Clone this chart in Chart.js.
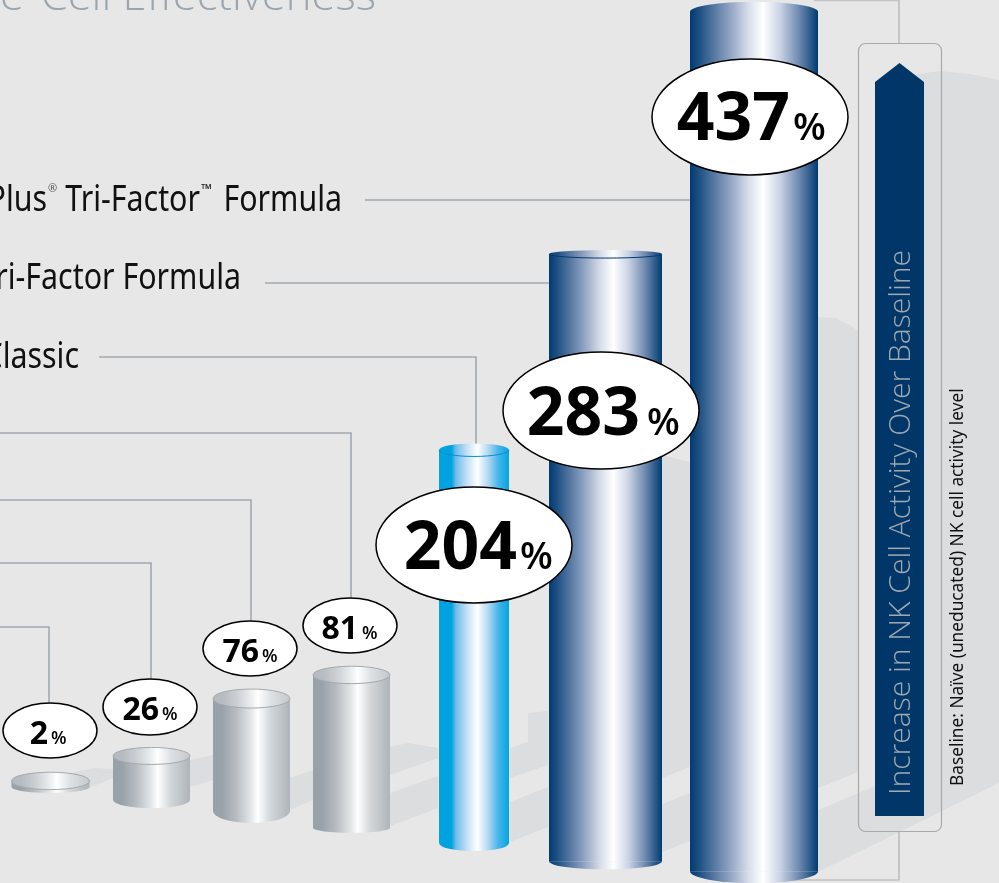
<!DOCTYPE html>
<html>
<head>
<meta charset="utf-8">
<title>NK Cell Activity</title>
<script src="https://cdn.jsdelivr.net/npm/chart.js@4"></script>
<style>
html, body { margin: 0; padding: 0; background: #e7e7e7; overflow: hidden; }
canvas { display: block; }
</style>
</head>
<body>
<canvas id="chart" width="999" height="883"></canvas>
<script>
// data
const categories = ['Product A', 'Product B', 'Product C', 'Product D', 'Classic', 'Tri-Factor Formula', 'Plus Tri-Factor Formula'];
const percentIncrease = [2, 26, 76, 81, 204, 283, 437];
// the artwork is not to scale and the floor rises to the left, so these are the drawn levels on the axis
const drawnBase = [42.8, 36.2, 30.6, 22, 14.3, 5, 0];
const drawnTop = [45.9, 58.6, 87.8, 99.8, 214.2, 313.8, 437];

// layout
const barCenters = [50.5, 151.5, 251.5, 351.5, 474, 605.5, 754];
const barWidths = [78, 77, 77, 77, 70, 113, 128];
const capHeights = [8.7, 8.5, 9.5, 8.7, 6.5, 4, 10];
const footHeights = [6, 8, 12, 5, 8, 8, 12];
const barColors = ['gray', 'gray', 'gray', 'gray', 'blue', 'navy', 'navy'];

const stops = {
    gray: [[0, '#98a0a8'], [0.12, '#9aa2a9'], [0.3, '#b7bcc1'], [0.5, '#e5e8ea'], [0.58, '#ffffff'], [0.75, '#d2d6d9'], [1, '#aeb4b9']],
    blue: [[0, '#00a3e0'], [0.18, '#00a3e0'], [0.24, '#6cbcea'], [0.4, '#c5e0f5'], [0.55, '#ffffff'], [0.7, '#b5d8f2'], [0.85, '#45b5e8'], [1, '#00a5e3']],
    navy: [[0, '#003b71'], [0.07, '#1d4f82'], [0.3, '#8b9fbf'], [0.45, '#d5dbe8'], [0.57, '#ffffff'], [0.7, '#ccd5e5'], [0.85, '#6f8ab0'], [1, '#003b71']]
};
const outlineColors = { gray: '#a3aab0', blue: '#0090d0', navy: '#003b71' };

function barGradient(ctx, color, left, right) {
    const g = ctx.createLinearGradient(left, 0, right, 0);
    stops[color].forEach(s => g.addColorStop(s[0], s[1]));
    return g;
}

// one polygon per floor shadow
const shadows = [
    [[70, 773], [95, 768], [113, 769], [113, 778], [89, 788]],
    [[190, 760], [213, 755], [213, 780], [190, 787]],
    [[290, 778], [313, 770], [313, 800], [290, 810]],
    [[390, 747], [408, 743], [438, 748], [438, 758], [390, 775]],
    [[390, 793], [438, 776], [438, 808], [390, 826]],
    [[510, 748], [528, 742], [528, 713], [548, 711], [548, 765], [510, 778]],
    [[510, 802], [548, 787], [548, 827], [510, 842]],
    [[662, 455], [690, 462], [690, 767], [662, 778]],
    [[662, 804], [690, 793], [690, 841], [662, 852]],
    [[816, 317], [835, 318], [850, 325], [858, 331], [858, 772], [816, 789]],
    [[816, 811], [875, 786], [875, 95], [917, 74], [940, 71], [970, 74], [999, 80], [999, 783], [816, 873]]
];

// leader lines from the product names to the bars
const leaders = [
    [[365, 200], [690, 200]],
    [[265, 283], [549, 283]],
    [[99, 357], [476, 357], [476, 445]],
    [[0, 433], [351, 433], [351, 600]],
    [[0, 500], [251, 500], [251, 622]],
    [[0, 563], [151, 563], [151, 680]],
    [[0, 627], [49, 627], [49, 704]]
];

// bubbles: center x, center y, half width, half height, number size, % size, number right edge, % left edge, baseline
const bubbles = [
    [50, 730.5, 47, 27.5, 32, 18, 48, 51, 744],
    [150, 707, 47, 28, 32, 18, 159, 162, 720],
    [250, 648.5, 47, 27.5, 32, 18, 259, 262, 662],
    [350, 625.5, 47, 27.5, 32, 18, 358, 362, 639],
    [474, 545, 98, 58, 66, 38, 517, 520, 569],
    [601, 410.5, 98, 58.5, 66, 38, 640, 647, 435],
    [750, 117, 98, 58, 66, 38, 790, 793, 140]
];

function poly(ctx, pts) {
    ctx.beginPath();
    pts.forEach((p, i) => i ? ctx.lineTo(p[0], p[1]) : ctx.moveTo(p[0], p[1]));
}

function text(ctx, str, x, y, font, color, align, squeeze) {
    ctx.save();
    ctx.translate(x, y);
    ctx.scale(squeeze || 1, 1);
    ctx.font = font;
    ctx.fillStyle = color;
    ctx.textAlign = align || 'left';
    ctx.textBaseline = 'alphabetic';
    ctx.fillText(str, 0, 0);
    ctx.restore();
}

// background decoration, then the round foot under each bar
const backdrop = {
    id: 'backdrop',
    beforeDatasetsDraw(chart) {
        const ctx = chart.ctx;
        ctx.fillStyle = '#dcdddf';
        shadows.forEach(s => { poly(ctx, s); ctx.closePath(); ctx.fill(); });

        ctx.strokeStyle = '#a2a9af';
        ctx.lineWidth = 1.6;
        leaders.forEach(l => { poly(ctx, l); ctx.stroke(); });

        ctx.strokeStyle = '#b0b0b0';
        ctx.lineWidth = 1.2;
        poly(ctx, [[899, 0], [899, 43]]); ctx.stroke();
        poly(ctx, [[899, 832], [899, 880], [790, 880]]); ctx.stroke();
        ctx.strokeStyle = '#c4c4c4';
        ctx.lineWidth = 2.5;
        poly(ctx, [[814, 0], [899, 0]]); ctx.stroke();

        chart.data.datasets.forEach((ds, i) => {
            const bar = chart.getDatasetMeta(i).data[0];
            const left = bar.x - bar.width / 2, right = bar.x + bar.width / 2;
            ctx.fillStyle = barGradient(ctx, barColors[i], left, right);
            ctx.beginPath();
            ctx.ellipse(bar.x, bar.base, bar.width / 2, footHeights[i], 0, 0, Math.PI);
            ctx.fill();
        });
    },
    afterDatasetsDraw(chart) {
        const ctx = chart.ctx;
        chart.data.datasets.forEach((ds, i) => {
            const bar = chart.getDatasetMeta(i).data[0];
            const left = bar.x - bar.width / 2, right = bar.x + bar.width / 2;
            ctx.fillStyle = barGradient(ctx, barColors[i], left, right);
            ctx.beginPath();
            ctx.ellipse(bar.x, bar.y, bar.width / 2, capHeights[i], 0, 0, Math.PI * 2);
            ctx.fill();
            // gray caps are paler than the body and outlined all round
            if (barColors[i] === 'gray') {
                ctx.fillStyle = 'rgba(255,255,255,0.28)';
                ctx.fill();
            }
            ctx.strokeStyle = outlineColors[barColors[i]];
            ctx.lineWidth = 1;
            if (barColors[i] === 'gray') {
                ctx.stroke();
            } else if (i < 6) {
                // tallest bar has no inner rim in the source
                ctx.beginPath();
                ctx.ellipse(bar.x, bar.y, bar.width / 2, capHeights[i], 0, 0, Math.PI);
                ctx.stroke();
            }
        });
    },
    afterDraw(chart) {
        const ctx = chart.ctx;

        // side box with arrow
        ctx.strokeStyle = '#a9a9a9';
        ctx.lineWidth = 1.2;
        ctx.beginPath();
        ctx.roundRect(858.5, 43.5, 83, 788, 7);
        ctx.stroke();
        ctx.fillStyle = '#003768';
        poly(ctx, [[899.5, 63], [924, 82], [924, 816], [875, 816], [875, 82]]);
        ctx.closePath();
        ctx.fill();

        ctx.save();
        ctx.translate(910, 795);
        ctx.rotate(-Math.PI / 2);
        text(ctx, 'Increase in NK Cell Activity Over Baseline', 0, 0, '300 29px "Open Sans"', '#9fa9b2', 'left', 1.036);
        ctx.restore();

        ctx.save();
        ctx.translate(963, 786);
        ctx.rotate(-Math.PI / 2);
        text(ctx, 'Baseline: Naïve (uneducated) NK cell activity level', 0, 0, '400 17.3px "Noto Sans"', '#111111', 'left', 1);
        ctx.restore();

        // title and product names, cut off by the left and top edges as in the source
        text(ctx, 'Cell Effectiveness', 376, 10, '300 42px "Open Sans"', '#9aa5ad', 'right', 1.037);
        text(ctx, 'e', 24, 10, '300 42px "Open Sans"', '#9aa5ad', 'right', 1.037);

        const nameFont = '400 37px "Noto Sans"', squeeze = 0.82;
        text(ctx, 'Formula', 342, 211, nameFont, '#111111', 'right', squeeze);
        text(ctx, 'Tri-Factor', 200, 211, nameFont, '#111111', 'right', squeeze);
        text(ctx, '™', 201, 194, '400 14px "Noto Sans"', '#222222', 'left', 1);
        text(ctx, '®', 48, 192, '400 11px "Noto Sans"', '#555555', 'left', 1);
        text(ctx, 'Plus', 47, 211, nameFont, '#111111', 'right', squeeze);
        text(ctx, 'Tri-Factor Formula', 241, 289, nameFont, '#111111', 'right', squeeze);
        text(ctx, 'Classic', 79, 368, nameFont, '#111111', 'right', squeeze);

        // value bubbles
        bubbles.forEach((b, i) => {
            ctx.beginPath();
            ctx.ellipse(b[0], b[1], b[2], b[3], 0, 0, Math.PI * 2);
            ctx.fillStyle = '#ffffff';
            ctx.fill();
            ctx.strokeStyle = '#000000';
            ctx.lineWidth = 1.5;
            ctx.stroke();
            text(ctx, String(percentIncrease[i]), b[6], b[8], '700 ' + b[4] + 'px "Open Sans"', '#000000', 'right', 1);
            text(ctx, '%', b[7], b[8], '600 ' + b[5] + 'px "Open Sans"', '#000000', 'left', 1);
        });
    }
};

// each bar is its own dataset because the widths differ
const datasets = categories.map((name, i) => ({
    label: name,
    data: [{ x: barCenters[i], y: [drawnBase[i], drawnTop[i]] }],
    barThickness: barWidths[i],
    grouped: false,
    borderWidth: 0,
    borderSkipped: false,
    inflateAmount: 0,
    backgroundColor: ctx => barGradient(ctx.chart.ctx, barColors[i], barCenters[i] - barWidths[i] / 2, barCenters[i] + barWidths[i] / 2)
}));

new Chart(document.getElementById('chart'), {
    type: 'bar',
    data: { datasets: datasets },
    options: {
        responsive: false,
        animation: false,
        layout: { padding: 0 },
        scales: {
            x: { type: 'linear', min: 0, max: 999, offset: false, display: false },
            y: { min: -6, max: 443, display: false }
        },
        plugins: {
            legend: { display: false },
            title: { display: false },
            tooltip: { enabled: false }
        }
    },
    plugins: [backdrop]
});
</script>
</body>
</html>
